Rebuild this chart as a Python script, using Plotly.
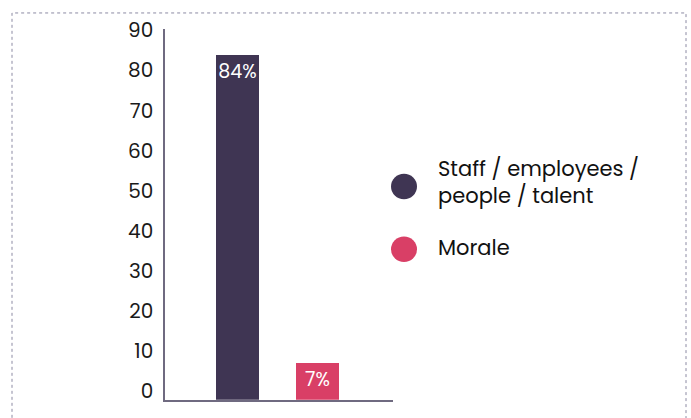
import plotly.graph_objects as go

# Survey shares (%)
categories = ["Staff / employees / people / talent", "Morale"]
values = [84, 7]
bar_colors = ["#3f3553", "#d93f66"]
legend_labels = ["Staff / employees /<br>people / talent", "Morale"]
y_ticks = [0, 10, 20, 30, 40, 50, 60, 70, 80, 90]

W, H = 691, 418
BASE = -2.12  # baseline sits a little below zero
Y_MAX = 90.4

label_font = "Poppins, Open Sans, sans-serif"

fig = go.Figure()
fig.add_trace(go.Bar(
    x=categories,
    y=[v - BASE for v in values],
    base=BASE,
    marker=dict(color=bar_colors, line=dict(width=0)),
    width=0.54,
    text=[f"{v}%" for v in values],
    textposition="inside",
    insidetextanchor="end",
    textangle=0,
    constraintext="none",
    textfont=dict(family=label_font, size=19, color="white"),
    showlegend=False,
    hoverinfo="skip",
))


def px(x):
    return x / W


def py(y):
    return 1 - y / H


shapes = [
    # dotted frame
    dict(type="rect", xref="paper", yref="paper",
         x0=px(12), x1=px(686), y0=-0.1, y1=py(1),
         line=dict(color="#8c8aa3", width=1, dash="dot"), layer="below"),
]
annotations = []
for lab, col, cy, ty in zip(legend_labels, bar_colors, [181.8, 247.3], [177.7, 245.8]):
    shapes.append(dict(type="circle", xref="paper", yref="paper",
                       x0=px(391), x1=px(417), y0=py(cy + 13.3), y1=py(cy - 13.3),
                       fillcolor=col, line=dict(width=0)))
    annotations.append(dict(xref="paper", yref="paper", x=px(436), y=py(ty),
                            xanchor="left", yanchor="middle", align="left",
                            text=lab, showarrow=False,
                            font=dict(family=label_font, size=21, color="#111111")))

fig.update_layout(
    width=W, height=H,
    margin=dict(l=0, r=0, t=0, b=0),
    paper_bgcolor="white", plot_bgcolor="white",
    bargap=0,
    shapes=shapes,
    annotations=annotations,
    xaxis=dict(domain=[px(165), px(393)], range=[-0.906, 1.944],
               showticklabels=False, ticks="", showgrid=False, zeroline=False,
               showline=True, linecolor="#6f6a80", linewidth=1.5),
    yaxis=dict(domain=[py(404.1), py(17.5)], range=[BASE, Y_MAX],
               tickvals=y_ticks, ticks="", showgrid=False, zeroline=False,
               showline=True, linecolor="#6f6a80", linewidth=1.5,
               ticklabelstandoff=6,
               tickfont=dict(family=label_font, size=20, color="#1a1a1a")),
)

fig.write_html("out.html")
